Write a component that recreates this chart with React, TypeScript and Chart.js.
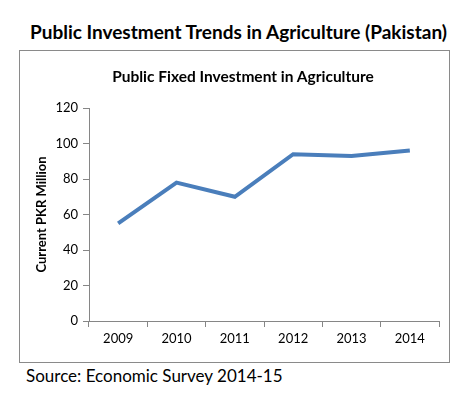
import React, { useEffect, useRef } from "react";
import { Chart, registerables } from "chart.js";

Chart.register(...registerables);

const mainTitle = "Public Investment Trends in Agriculture (Pakistan)";
const chartTitle = "Public Fixed Investment in Agriculture";
const yAxisTitle = "Current PKR Million";
const sourceText = "Source: Economic Survey 2014-15";
const years = ["2009", "2010", "2011", "2012", "2013", "2014"];
const investment = [55, 78, 70, 94, 93, 96];

const FONT = "Lato, 'Open Sans', sans-serif";

export default function App() {
  const canvasRef = useRef<HTMLCanvasElement | null>(null);

  useEffect(() => {
    document.body.style.margin = "0";
    const ctx = canvasRef.current;
    if (!ctx) return;
    const chart = new Chart(ctx, {
      type: "line",
      data: {
        labels: years,
        datasets: [
          {
            data: investment,
            borderColor: "#4A7EBB",
            borderWidth: 4,
            pointRadius: 0,
            tension: 0,
            fill: false,
          },
        ],
      },
      options: {
        responsive: false,
        animation: false,
        layout: { padding: { left: 0, right: 10, top: 57, bottom: 0 } },
        plugins: {
          legend: { display: false },
          tooltip: { enabled: false },
          title: { display: false },
        },
        scales: {
          x: {
            offset: true,
            grid: {
              offset: true,
              drawOnChartArea: false,
              drawTicks: true,
              tickLength: 6,
              color: "#868686",
            },
            border: { color: "#868686", width: 1 },
            ticks: {
              color: "#000",
              font: { family: FONT, size: 13 },
              padding: 4,
              maxRotation: 0,
            },
            afterFit: (scale: any) => {
              scale.height = 41;
            },
          },
          y: {
            min: 0,
            max: 120,
            ticks: {
              stepSize: 20,
              color: "#000",
              font: { family: FONT, size: 13 },
              padding: 5,
            },
            grid: {
              drawOnChartArea: false,
              drawTicks: true,
              tickLength: 6,
              color: "#868686",
            },
            border: { color: "#868686", width: 1 },
            title: {
              display: true,
              text: yAxisTitle,
              color: "#000",
              font: { family: FONT, size: 13, weight: "bold" },
              padding: { top: 14, bottom: 0 },
            },
            afterFit: (scale: any) => {
              scale.width = 69;
            },
          },
        },
      },
    });
    return () => chart.destroy();
  }, []);

  return (
    <div style={{ position: "relative", width: 455, height: 399, background: "#fff", overflow: "hidden" }}>
      <div
        style={{
          position: "absolute",
          left: 0,
          width: 477,
          top: 20,
          textAlign: "center",
          fontFamily: FONT,
          fontWeight: 700,
          fontSize: 19,
          lineHeight: "24px",
          color: "#000",
          whiteSpace: "nowrap",
        }}
      >
        {mainTitle}
      </div>
      <div
        style={{
          position: "absolute",
          left: 19,
          top: 50,
          width: 429,
          height: 311,
          border: "1px solid #8a8a8a",
        }}
      >
        <canvas ref={canvasRef} width={429} height={311} style={{ display: "block" }} />
        <div
          style={{
            position: "absolute",
            left: 0,
            width: 446,
            top: 15,
            textAlign: "center",
            fontFamily: FONT,
            fontWeight: 700,
            fontSize: 15.5,
            lineHeight: "20px",
            color: "#000",
            whiteSpace: "nowrap",
          }}
        >
          {chartTitle}
        </div>
      </div>
      <div
        style={{
          position: "absolute",
          left: 26,
          top: 365,
          fontFamily: FONT,
          fontSize: 17,
          lineHeight: "22px",
          color: "#000",
          whiteSpace: "nowrap",
        }}
      >
        {sourceText}
      </div>
    </div>
  );
}
